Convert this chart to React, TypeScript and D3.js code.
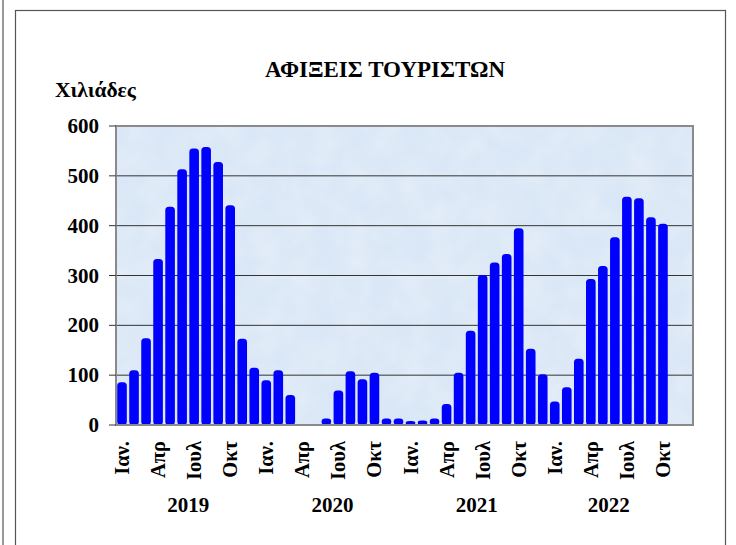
import React from "react";
import * as d3 from "d3";

// monthly arrivals (thousands), Jan 2019 - Oct 2022
const years = ["2019", "2020", "2021", "2022"];
const monthLabels = ["Ιαν.", "Απρ", "Ιουλ", "Οκτ"];
const values2019 = [86, 110, 174, 333, 438, 513, 555, 558, 528, 441, 173, 115];
const values2020 = [90, 110, 60, 0, 0, 13, 69, 108, 92, 105, 13, 13];
const values2021 = [8, 9, 13, 42, 105, 189, 301, 326, 343, 395, 153, 102];
const values2022 = [47, 76, 133, 293, 319, 377, 458, 455, 417, 404];
const yTicks = [0, 100, 200, 300, 400, 500, 600];

const W = 736;
const H = 545;
const serif = "'Liberation Serif', 'Times New Roman', serif";

const App = () => {
  const series = [values2019, values2020, values2021, values2022];
  const data = series.flatMap((vals, yi) =>
    vals.map((v, mi) => ({ key: `${years[yi]}-${mi}`, year: yi, month: mi, value: v }))
  );
  // 48 slots: the axis runs to Dec 2022
  const slots = years.flatMap((y) => d3.range(12).map((m) => `${y}-${m}`));

  const left = 116;
  const right = 693;
  const top = 126;
  const bottom = 425;

  const x = d3.scaleBand().domain(slots).range([left, right]).paddingInner(0.2).paddingOuter(0.1);
  const y = d3.scaleLinear().domain([0, 600]).range([bottom, top]);
  const cx = (k) => x(k) + x.bandwidth() / 2;

  return (
    <div style={{ position: "fixed", left: 0, top: 0 }}>
      <svg width={W} height={H} style={{ display: "block", background: "#fff" }}>
        <defs>
          <filter id="marble" x="0" y="0" width="100%" height="100%">
            <feTurbulence type="fractalNoise" baseFrequency="0.035" numOctaves="3" seed="4" result="n" />
            <feColorMatrix
              in="n"
              type="matrix"
              values="0 0 0 0 1  0 0 0 0 1  0 0 0 0 1  0 0 0 0.9 -0.3"
            />
          </filter>
        </defs>

        {/* frames */}
        <line x1={3} y1={0} x2={3} y2={H} stroke="#555" strokeWidth={1.2} />
        <rect x={15.5} y={10.5} width={710} height={H} fill="none" stroke="#555" strokeWidth={1.2} />

        {/* title */}
        <text x={385} y={77} textAnchor="middle" fontFamily={serif} fontWeight="bold" fontSize={23}>
          ΑΦΙΞΕΙΣ ΤΟΥΡΙΣΤΩΝ
        </text>
        <text x={55} y={97} fontFamily={serif} fontWeight="bold" fontSize={21.5}>
          Χιλιάδες
        </text>

        {/* plot area */}
        <rect x={left} y={top} width={right - left} height={bottom - top} fill="#dae7f6" />
        <rect x={left} y={top} width={right - left} height={bottom - top} filter="url(#marble)" opacity={0.55} />

        {/* grid */}
        {yTicks.slice(1, -1).map((t) => (
          <line key={t} x1={left} x2={right} y1={y(t)} y2={y(t)} stroke="#333" strokeWidth={1} />
        ))}

        {/* bars */}
        {data
          .filter((d) => d.value > 0)
          .map((d) => (
            <rect
              key={d.key}
              x={x(d.key)}
              y={y(d.value)}
              width={x.bandwidth()}
              height={bottom - y(d.value)}
              rx={3.5}
              fill="#0000ff"
            />
          ))}

        <rect x={left} y={top} width={right - left} height={bottom - top} fill="none" stroke="#8a8a8a" strokeWidth={2} />

        {/* y axis */}
        {yTicks.map((t) => (
          <g key={t}>
            <line x1={109} x2={left} y1={y(t)} y2={y(t)} stroke="#333" />
            <text
              x={99}
              y={y(t) + 7}
              textAnchor="end"
              fontFamily={serif}
              fontWeight="bold"
              fontSize={21}
            >
              {t}
            </text>
          </g>
        ))}

        {/* month labels */}
        {data
          .filter((d) => d.month % 3 === 0)
          .map((d) => (
            <text
              key={d.key}
              transform={`translate(${cx(d.key) + 7},${441}) rotate(-90)`}
              textAnchor="end"
              fontFamily={serif}
              fontWeight="bold"
              fontSize={20.5}
            >
              {monthLabels[d.month / 3]}
            </text>
          ))}

        {/* year labels */}
        {years.map((yr, yi) => {
          const ds = data.filter((d) => d.year === yi);
          const mid = (cx(ds[0].key) + cx(ds[ds.length - 1].key)) / 2;
          return (
            <text key={yr} x={mid} y={512} textAnchor="middle" fontFamily={serif} fontWeight="bold" fontSize={21}>
              {yr}
            </text>
          );
        })}
      </svg>
    </div>
  );
};

export default App;
